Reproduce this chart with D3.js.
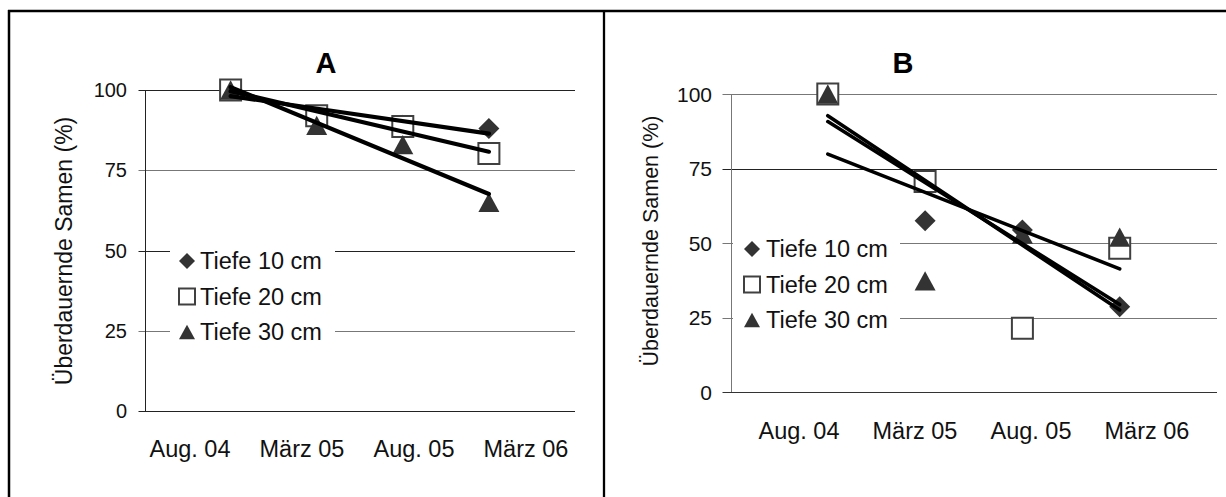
<!DOCTYPE html>
<html>
<head>
<meta charset="utf-8">
<script src="https://cdn.jsdelivr.net/npm/d3@7.9.0/dist/d3.min.js"></script>
<style>
  body { margin: 0; background: #fff; }
  svg { display: block; font-family: "Liberation Sans", Arial, sans-serif; }
</style>
</head>
<body>
<svg width="1226" height="497"></svg>
<script>
const categories = ["Aug. 04", "März 05", "Aug. 05", "März 06"];
const yTicks = [0, 25, 50, 75, 100];
const seriesNames = ["Tiefe 10 cm", "Tiefe 20 cm", "Tiefe 30 cm"];

// panel A values (%)
const a10 = [100, 92, 89, 88];
const a20 = [100, 92, 88.6, 80.2];
const a30 = [100, 89, 83, 65];

// panel B values (%)
const b10 = [100, 57.5, 54.4, 28.6];
const b20 = [100, 70.6, 21.4, 48.2];
const b30 = [100, 37.3, 53, 52];

const svg = d3.select('svg');

// frame around the two panels
svg.append('line').attr('x1', 9).attr('x2', 9).attr('y1', 10).attr('y2', 497)
  .attr('stroke', '#000').attr('stroke-width', 2.5);
svg.append('line').attr('x1', 8).attr('x2', 1226).attr('y1', 11).attr('y2', 11)
  .attr('stroke', '#000').attr('stroke-width', 2.3);
svg.append('line').attr('x1', 604).attr('x2', 604).attr('y1', 10).attr('y2', 497)
  .attr('stroke', '#000').attr('stroke-width', 2.3);

// marker shapes, centred on their bounding box like Excel does
function markerPath(kind, s) {
  const h = s / 2;
  if (kind === 0) return `M0,${-h}L${h},0L0,${h}L${-h},0Z`;
  if (kind === 1) return `M${-h},${-h}H${h}V${h}H${-h}Z`;
  const th = s * 0.92 / 2;
  return `M0,${-th}L${h},${th}L${-h},${th}Z`;
}
function styleMarker(sel, kind) {
  if (kind === 1) {
    sel.attr('fill', '#fff').attr('stroke', '#404040').attr('stroke-width', 2);
  } else {
    sel.attr('fill', '#333').attr('stroke', 'none');
  }
}

// least squares line over x = 1..n
function trend(values) {
  const xs = values.map((_, i) => i + 1);
  const mx = d3.mean(xs), my = d3.mean(values);
  const slope = d3.sum(xs, (x, i) => (x - mx) * (values[i] - my)) / d3.sum(xs, x => (x - mx) ** 2);
  const icpt = my - slope * mx;
  return [[1, icpt + slope], [values.length, icpt + slope * values.length]];
}

function drawPanel(p) {
  const g = svg.append('g');
  const x = d3.scaleLinear().domain([0, 5]).range(p.xRange);
  const y = d3.scaleLinear().domain([0, 100]).range(p.yRange);
  const xLab = d3.scaleBand().domain(categories).range(p.labelRange);

  // gridlines + ticks
  yTicks.forEach((t, i) => {
    g.append('line')
      .attr('x1', x(0) - p.tickLen).attr('x2', x(5))
      .attr('y1', Math.round(y(t)) + 0.5).attr('y2', Math.round(y(t)) + 0.5)
      .attr('stroke', p.gridColors[i]).attr('stroke-width', 1);
    g.append('text')
      .attr('x', p.tickLabelX).attr('y', y(t))
      .attr('dy', '0.36em').attr('text-anchor', 'end')
      .attr('font-size', p.tickFont).attr('fill', '#111')
      .text(t);
  });
  g.append('line')
    .attr('x1', Math.round(x(0)) + 0.5).attr('x2', Math.round(x(0)) + 0.5)
    .attr('y1', y(100)).attr('y2', y(0))
    .attr('stroke', p.axisColor).attr('stroke-width', 1);

  // category labels
  categories.forEach(c => {
    g.append('text')
      .attr('x', xLab(c) + xLab.bandwidth() / 2).attr('y', p.labelY)
      .attr('text-anchor', 'middle').attr('font-size', 23.5).attr('fill', '#111')
      .text(c);
  });

  // title and y axis title
  g.append('text').attr('x', p.titleX).attr('y', 73)
    .attr('text-anchor', 'middle').attr('font-size', 29).attr('font-weight', 'bold')
    .text(p.title);
  g.append('text')
    .attr('transform', `translate(${p.yTitleX},${p.yTitleY}) rotate(-90)`)
    .attr('text-anchor', 'middle').attr('dy', '0.35em')
    .attr('font-size', p.yTitleFont).attr('fill', '#111')
    .text('Überdauernde Samen (%)');

  // legend box hides the gridlines behind it
  g.append('rect').attr('x', p.legend.x).attr('y', p.legend.y)
    .attr('width', p.legend.w).attr('height', p.legend.h).attr('fill', '#fff');
  seriesNames.forEach((name, k) => {
    const cy = p.legend.row0 + k * 35.5;
    g.append('path').attr('d', markerPath(k, 16))
      .attr('transform', `translate(${p.legend.mx},${cy})`)
      .call(styleMarker, k);
    g.append('text').attr('x', p.legend.tx).attr('y', cy)
      .attr('dy', '0.36em').attr('font-size', 23.5).attr('fill', '#111')
      .text(name);
  });

  // markers
  p.series.forEach((vals, k) => {
    g.selectAll(null).data(vals).join('path')
      .attr('d', markerPath(k, 21))
      .attr('transform', (d, i) => `translate(${x(i + 1)},${y(d)})`)
      .call(styleMarker, k);
  });

  // linear trendlines
  const line = d3.line().x(d => x(d[0])).y(d => y(d[1]));
  p.series.forEach(vals => {
    g.append('path').attr('d', line(trend(vals)))
      .attr('fill', 'none').attr('stroke', '#000')
      .attr('stroke-width', p.trendWidth).attr('stroke-linecap', 'round');
  });
}

drawPanel({
  title: 'A', series: [a10, a20, a30],
  xRange: [144.5, 575], yRange: [411, 90], labelRange: [134, 582], labelY: 457,
  tickLen: 6, tickLabelX: 127, tickFont: 20,
  gridColors: ['#222', '#777', '#222', '#777', '#222'], axisColor: '#222',
  titleX: 326, yTitleX: 64, yTitleY: 251, yTitleFont: 23, trendWidth: 4.2,
  legend: { x: 170, y: 240, w: 165, h: 108, row0: 261, mx: 187, tx: 200 }
});

drawPanel({
  title: 'B', series: [b10, b20, b30],
  xRange: [730.5, 1217], yRange: [392, 94], labelRange: [741, 1205], labelY: 439,
  tickLen: 8, tickLabelX: 712, tickFont: 21,
  gridColors: ['#333', '#777', '#777', '#222', '#777'], axisColor: '#777',
  titleX: 903, yTitleX: 650, yTitleY: 241, yTitleFont: 21.5, trendWidth: 3.6,
  legend: { x: 733, y: 230, w: 167, h: 108, row0: 249, mx: 752, tx: 766 }
});
</script>
</body>
</html>
